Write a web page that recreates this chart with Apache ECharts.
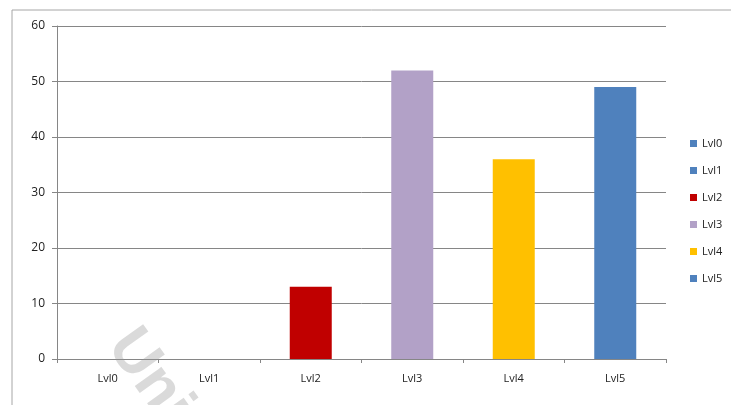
<!DOCTYPE html>
<html>
<head>
<meta charset="utf-8">
<script src="https://cdn.jsdelivr.net/npm/echarts@6/dist/echarts.min.js"></script>
<style>
  html, body { margin: 0; padding: 0; background: #fff; }
  #chart { width: 731px; height: 405px; }
</style>
</head>
<body>
<div id="chart"></div>
<script>
// categories and values
const levels = ['Lvl0', 'Lvl1', 'Lvl2', 'Lvl3', 'Lvl4', 'Lvl5']
const values = [0, 0, 13, 52, 36, 49]
const colors = ['#4F81BD', '#4F81BD', '#C00000', '#B2A1C7', '#FFC000', '#4F81BD']
const yTicks = [0, 10, 20, 30, 40, 50, 60]

const chart = echarts.init(document.getElementById('chart'))

// one series per level so each gets its own legend entry; bars overlap on their slot
const series = levels.map((name, i) => ({
  name: name,
  type: 'bar',
  barWidth: 42,
  barGap: '-100%',
  itemStyle: { color: colors[i] },
  data: levels.map((c, j) => (j === i ? values[i] : '-')),
  animation: false
}))

chart.setOption({
  animation: false,
  textStyle: { fontFamily: 'Open Sans, Liberation Sans, sans-serif' },
  grid: {
    left: 57,
    right: 65,
    top: 26,
    bottom: 46
  },
  legend: {
    orient: 'vertical',
    left: 685,
    top: 133,
    icon: 'rect',
    itemWidth: 7,
    itemHeight: 7,
    itemGap: 16,
    textStyle: { fontSize: 11, color: '#222' },
    data: levels
  },
  xAxis: {
    type: 'category',
    data: levels,
    axisLine: { lineStyle: { color: '#868686' } },
    axisTick: { show: true, length: 4, lineStyle: { color: '#868686' } },
    axisLabel: { color: '#222', fontSize: 11, margin: 14 }
  },
  yAxis: {
    type: 'value',
    min: yTicks[0],
    max: yTicks[yTicks.length - 1],
    interval: 10,
    axisLine: { show: true, lineStyle: { color: '#868686' } },
    axisTick: { show: true, length: 5, lineStyle: { color: '#868686' } },
    axisLabel: { color: '#222', fontSize: 12, margin: 12 },
    splitLine: { lineStyle: { color: '#868686', width: 1 } }
  },
  graphic: [
    {
      type: 'polyline',
      shape: { points: [[12, 405], [12, 10], [731, 10]] },
      style: { stroke: '#a6a6a6', lineWidth: 1, fill: null },
      silent: true
    },
    {
      type: 'text',
      left: 95,
      top: 318,
      rotation: -0.95,
      style: { text: 'Uni', fontSize: 62, fontWeight: 'bold', fill: 'rgba(150,150,150,0.35)' },
      silent: true,
      z: 100
    }
  ],
  series: series
})
</script>
</body>
</html>
